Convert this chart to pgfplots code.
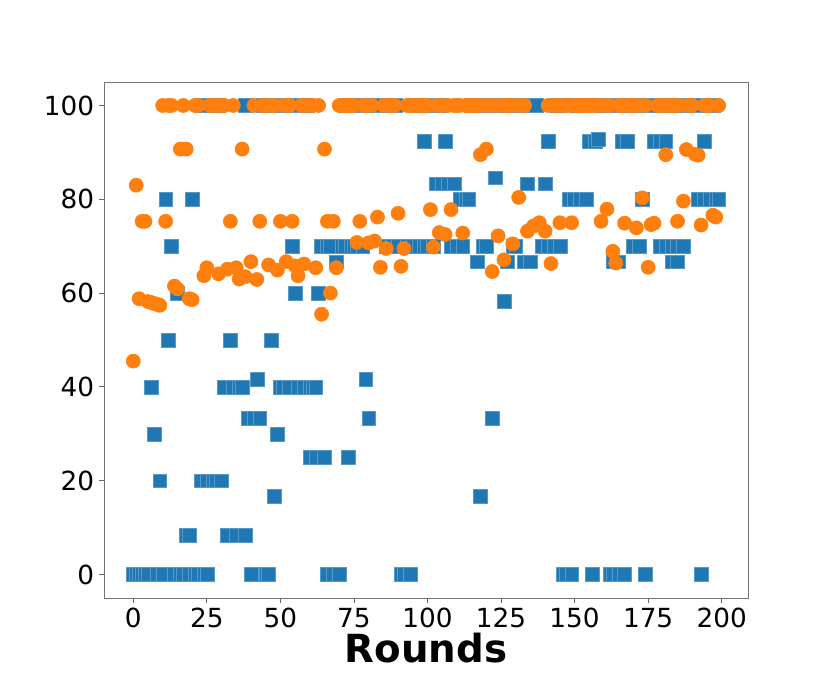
\documentclass[border=0pt]{standalone}
\usepackage{fontspec}
\setmainfont{DejaVu Sans}
\usepackage{pgfplots}
\pgfplotsset{compat=1.18}
\definecolor{tabblue}{RGB}{31,119,180}
\definecolor{taborange}{RGB}{255,127,14}
\begin{document}
\begin{tikzpicture}
  % figure is 8.30in x 6.84in; axis box 6.44in x 5.16in
  \useasboundingbox (-1.04in,-0.86in) rectangle (7.26in,5.98in);
  \begin{axis}[
    scale only axis,
    width=6.44in, height=5.16in,
    xmin=-9.95, xmax=208.95, ymin=-5, ymax=105,
    xtick={0,25,...,200}, ytick={0,20,...,100},
    xtick pos=bottom, ytick pos=left,
    tick align=outside, major tick length=3.6pt,
    axis line style={black!55, line width=0.6pt},
    tick style={black!60, line width=0.6pt},
    /pgf/number format/assume math mode=true,
    tick label style={font=\fontsize{19}{22}\selectfont},
    xlabel={Rounds},
    xlabel style={font=\fontsize{28}{32}\selectfont\bfseries, yshift=3pt},
    clip=false,
  ]
    % blue squares
    \addplot[only marks, mark=square*, mark size=5pt,
      mark options={fill=tabblue, draw=tabblue!75!white, line width=0.3pt}]
      coordinates {
      (0,0) (1,0) (2,0) (3,0) (4,0) (5,0) (8,0) (10,0) (14,0) (16,0) (17,0) (19,0) (21,0) (22,0) (24,0) (25,0)
      (40,0) (45,0) (46,0) (66,0) (68,0) (70,0) (91,0) (92,0) (94,0)
      (146,0) (147,0) (149,0) (156,0) (162,0) (163,0) (165,0) (167,0) (174,0) (193,0)
      (18,8.3) (19,8.3) (32,8.3) (35,8.3) (38,8.3)
      (48,16.7) (118,16.7)
      (9,20) (23,20) (25,20) (27,20) (28,20) (30,20)
      (60,25) (62,25) (65,25) (73,25)
      (7,30) (49,30)
      (39,33.3) (41,33.3) (43,33.3) (80,33.3) (122,33.3)
      (6,40) (31,40) (34,40) (36,40) (37,40) (50,40) (51,40) (53,40) (56,40) (58,40) (60,40) (61,40) (62,40)
      (42,41.7) (79,41.7)
      (12,50) (33,50) (47,50)
      (126,58.3)
      (15,60) (55,60) (63,60)
      (69,66.7) (117,66.7) (127,66.7) (133,66.7) (135,66.7) (163,66.7) (165,66.7) (183,66.7) (185,66.7)
      (13,70) (54,70) (64,70) (66,70) (67,70) (71,70) (72,70) (74,70) (75,70) (76,70) (78,70)
      (86,70) (88,70) (90,70) (93,70) (95,70) (97,70) (99,70) (100,70) (102,70)
      (108,70) (110,70) (112,70) (119,70) (120,70) (129,70) (130,70)
      (139,70) (141,70) (143,70) (145,70) (170,70) (172,70) (179,70) (181,70) (183,70) (185,70) (187,70)
      (11,80) (20,80) (111,80) (113,80) (114,80) (148,80) (150,80) (152,80) (154,80) (173,80)
      (192,80) (194,80) (196,80) (198,80) (199,80)
      (103,83.3) (105,83.3) (107,83.3) (109,83.3) (134,83.3) (140,83.3)
      (123,84.6)
      (99,92.3) (106,92.3) (141,92.3) (155,92.3) (157,92.3) (158,92.8) (166,92.3) (168,92.3)
      (177,92.3) (179,92.3) (181,92.3) (194,92.3)
      (23,100) (26,100) (29,100) (38,100) (44,100) (48,100) (52,100) (57,100) (59,100) (72,100) (77,100)
      (81,100) (83,100) (85,100) (87,100) (89,100) (96,100) (98,100) (101,100) (104,100) (115,100)
      (116,100) (121,100) (125,100) (128,100) (131,100) (132,100) (137,100) (144,100) (151,100)
      (153,100) (159,100) (160,100) (161,100) (164,100) (169,100) (171,100) (175,100) (176,100)
      (178,100) (180,100) (182,100) (184,100) (186,100) (188,100) (189,100) (190,100) (191,100)
      (195,100) (197,100)
      };
    % orange circles
    \addplot[only marks, mark=*, mark size=5.1pt,
      mark options={fill=taborange, draw=taborange}]
      coordinates {
      (0,45.5) (1,83.0) (2,58.8) (3,75.3) (4,75.3) (5,58.2) (6,58.0) (7,57.8) (8,57.6) (9,57.4)
      (10,100) (11,75.3) (12,100) (13,100) (14,61.5) (15,60.9) (16,90.7) (17,100) (18,90.7)
      (19,58.8) (20,58.6) (21,100) (22,100) (24,63.7) (25,65.4) (26,100) (27,100) (28,100)
      (29,64.1) (30,100) (31,100) (32,65.1) (33,75.3) (34,100) (35,65.4) (36,63.0) (37,90.7)
      (38,63.5) (40,66.7) (41,100) (42,62.9) (43,75.3) (44,100) (45,100) (46,66.0) (47,100)
      (48,100) (49,64.9) (50,75.3) (51,100) (52,66.7) (53,100) (54,75.3) (55,65.8) (56,63.7)
      (57,100) (58,66.2) (59,100) (60,100) (61,100) (62,65.4) (63,100) (64,55.5) (65,90.7)
      (66,75.3) (67,60.0) (68,75.3) (69,65.4) (70,100) (71,100)
      (72,100) (73,100) (74,100) (75,100) (76,70.8) (77,75.3) (78,100) (79,100) (80,70.7)
      (81,100) (82,71.1) (83,76.2) (84,65.5) (85,100) (86,69.5) (87,100) (88,100) (89,100)
      (90,77.0) (91,65.7) (92,69.5) (93,100) (94,100) (95,100) (96,100) (97,100) (98,100)
      (99,100) (100,100) (101,77.8) (102,69.8) (103,100) (104,72.9) (105,100) (106,72.5)
      (107,100) (108,77.8) (109,100) (110,100) (111,100) (112,72.8) (113,100) (114,100)
      (115,100) (116,100) (117,100) (118,89.5) (119,100) (120,90.7) (121,100) (122,64.6)
      (123,100) (124,72.2) (125,100) (126,67.1) (127,100) (128,100) (129,70.5) (130,100)
      (131,80.4) (132,100) (133,100) (134,73.2) (136,74.3) (138,75.0) (140,73.2) (141,100) (142,66.3)
      (143,100) (144,100) (145,75.0) (146,100) (147,100) (148,100) (149,75.0) (150,100)
      (151,100) (152,100) (153,100) (154,100) (155,100) (156,100) (157,100) (158,100)
      (159,75.3) (160,100) (161,77.9) (162,100) (163,68.9) (164,66.4) (165,100) (166,100)
      (167,74.9) (168,100) (169,100) (170,100) (171,73.9) (172,100) (173,80.3) (174,100)
      (175,65.5) (176,74.6) (177,74.9) (178,100) (179,100) (180,100) (181,89.5) (182,100)
      (183,100) (184,100) (185,75.3) (186,100) (187,79.6) (188,90.6) (189,100) (190,100)
      (191,89.6) (192,89.4) (193,74.5) (194,100) (195,100) (196,100) (197,76.6) (198,76.2)
      (199,100)
      };
  \end{axis}
\end{tikzpicture}
\end{document}
